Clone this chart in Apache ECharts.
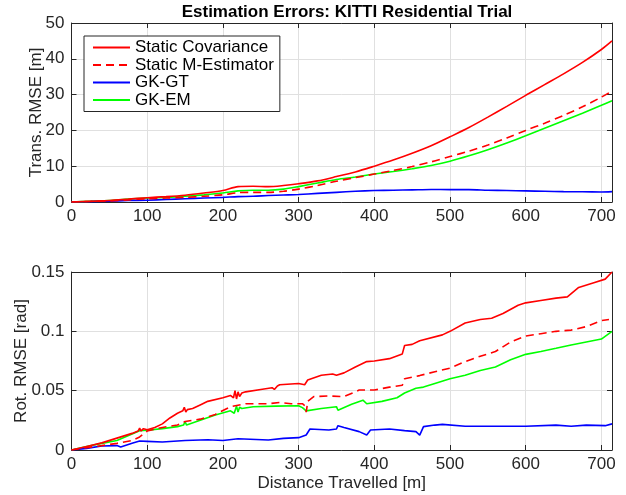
<!DOCTYPE html>
<html><head><meta charset="utf-8">
<script src="https://cdn.jsdelivr.net/npm/echarts@6/dist/echarts.min.js"></script>
<style>html,body{margin:0;padding:0;background:#fff}#c{width:626px;height:495px}</style>
</head><body><div id="c"></div>
<script>
// ---- Top plot: translational RMSE [m] ----
const transX      = [0,25,50,75,100,125,150,175,200,220,240,260,280,300,325,350,375,400,425,450,475,500,525,550,575,600,625,650,675,700,714];
const transCov    = [0,0.2,0.4,0.8,1.2,1.5,1.9,2.5,3.2,4.3,4.4,4.3,4.6,5.1,5.9,7.1,8.4,10.0,11.7,13.6,15.7,18.2,20.8,23.7,26.7,29.8,32.8,35.8,39.0,42.6,45.0];
const transMEst   = [0,0.15,0.3,0.6,0.9,1.1,1.3,1.6,2.0,2.6,2.7,2.7,3.0,3.6,4.6,5.8,6.8,7.8,8.8,9.9,11.2,12.7,14.2,15.9,17.9,20.0,22.0,24.2,26.6,29.3,31.0];
const transGKGT   = [0,0.1,0.25,0.4,0.5,0.7,0.9,1.1,1.3,1.5,1.6,1.8,1.95,2.1,2.4,2.7,3.0,3.2,3.3,3.4,3.5,3.45,3.45,3.3,3.2,3.1,3.0,2.9,2.85,2.8,2.9];
const transGKEM   = [0,0.2,0.4,0.8,1.1,1.3,1.6,2.0,2.5,3.1,3.3,3.3,3.6,4.3,5.3,6.3,7.0,7.8,8.5,9.3,10.2,11.4,12.9,14.6,16.5,18.5,20.6,22.7,24.8,27.0,28.3];

// ---- Bottom plot: rotational RMSE [rad] ----
const rotCovX = [0,20,40,60,80,88,90,92,95,100,110,120,130,140,147,149,151,153,160,170,180,200,210,214,216,218,220,222,225,230,250,265,268,272,275,300,308,312,330,345,350,360,375,390,400,420,437,440,450,460,490,500,520,540,555,570,590,600,620,640,655,670,690,705,714];
const rotCov  = [0,0.003,0.006,0.010,0.014,0.016,0.0185,0.016,0.018,0.017,0.019,0.022,0.027,0.031,0.033,0.036,0.032,0.034,0.035,0.038,0.041,0.044,0.046,0.044,0.050,0.043,0.049,0.045,0.048,0.049,0.051,0.0525,0.051,0.054,0.055,0.056,0.055,0.059,0.063,0.064,0.063,0.065,0.070,0.0745,0.075,0.077,0.081,0.088,0.089,0.092,0.097,0.100,0.107,0.110,0.111,0.115,0.122,0.124,0.126,0.128,0.129,0.137,0.141,0.144,0.150];

const rotMEstX = [0,20,40,60,80,90,100,120,140,150,170,190,210,230,260,275,290,305,309,310,311,312,320,340,360,380,400,420,437,440,460,480,500,520,540,560,580,600,620,640,660,680,700,710];
const rotMEst  = [0,0.002,0.0037,0.0056,0.008,0.011,0.016,0.019,0.021,0.024,0.026,0.030,0.0365,0.039,0.039,0.040,0.039,0.039,0.037,0.032,0.036,0.041,0.045,0.0455,0.045,0.0505,0.0505,0.053,0.0545,0.060,0.0627,0.066,0.069,0.0745,0.079,0.083,0.091,0.096,0.098,0.100,0.101,0.104,0.109,0.110];

const rotGKGTX = [0,20,40,60,65,80,90,100,120,150,180,200,220,260,280,300,310,315,340,350,352,360,380,390,395,420,440,455,460,465,480,490,520,560,600,640,660,680,705,714];
const rotGKGT  = [0,0.0014,0.0034,0.0037,0.0025,0.0056,0.0076,0.0073,0.0067,0.008,0.0087,0.008,0.0095,0.0084,0.0098,0.0104,0.0126,0.0177,0.0168,0.0177,0.0205,0.019,0.0155,0.0126,0.0168,0.0177,0.0163,0.0155,0.0126,0.0197,0.021,0.0216,0.020,0.020,0.020,0.021,0.020,0.021,0.0205,0.022];

const rotGKEMX = [0,20,40,60,80,90,100,120,140,148,150,152,170,190,210,215,218,220,222,225,240,270,300,305,310,330,350,352,370,385,390,410,430,440,455,465,480,500,520,540,560,580,600,620,640,660,680,700,714];
const rotGKEM  = [0,0.003,0.0056,0.008,0.0135,0.0163,0.0166,0.018,0.0197,0.021,0.024,0.021,0.025,0.0295,0.033,0.031,0.037,0.032,0.036,0.035,0.0365,0.037,0.0373,0.0357,0.033,0.035,0.0365,0.0335,0.0385,0.042,0.039,0.041,0.044,0.048,0.052,0.053,0.056,0.060,0.063,0.067,0.070,0.076,0.0806,0.083,0.0857,0.0885,0.091,0.0935,0.100];

const names = ['Static Covariance','Static M-Estimator','GK-GT','GK-EM'];
const colors = ['#ff0000','#ff0000','#0000ff','#00ff00'];

const zip = (xs, ys) => xs.map((x, i) => [x, ys[i]]);
const FONT = "'Liberation Sans', Arial, Helvetica, sans-serif";
const TXT = '#262626';
const XMAX = 714;

function xAxisDef(gi, main) {
  return {
    type: 'value', gridIndex: gi, min: 0, max: XMAX, interval: 100,
    position: main ? 'bottom' : 'top',
    axisLine: { show: true, onZero: false, lineStyle: { color: TXT, width: 1 } },
    axisTick: { show: true, inside: true, length: 5, lineStyle: { color: TXT } },
    axisLabel: { show: main, margin: 6, color: TXT, fontSize: 17, fontFamily: FONT,
                 formatter: v => (v % 100 === 0 ? String(v) : '') },
    splitLine: { show: main, lineStyle: { color: '#e0e0e0', width: 1 } },
    name: (main && gi === 1) ? 'Distance Travelled [m]' : '',
    nameLocation: 'middle', nameGap: 25, nameMoveOverlap: false,
    nameTextStyle: { color: TXT, fontSize: 17, fontFamily: FONT }
  };
}
function yAxisDef(gi, main, max, interval, name, gap) {
  return {
    type: 'value', gridIndex: gi, min: 0, max: max, interval: interval,
    position: main ? 'left' : 'right',
    axisLine: { show: true, onZero: false, lineStyle: { color: TXT, width: 1 } },
    axisTick: { show: true, inside: true, length: 5, lineStyle: { color: TXT } },
    axisLabel: { show: main, margin: 7, color: TXT, fontSize: 17, fontFamily: FONT },
    splitLine: { show: main, lineStyle: { color: '#e0e0e0', width: 1 } },
    name: main ? name : '', nameLocation: 'middle', nameGap: gap, nameRotate: 90,
    nameMoveOverlap: false,
    nameTextStyle: { color: TXT, fontSize: 17, fontFamily: FONT }
  };
}

const topData = [transCov, transMEst, transGKGT, transGKEM];
const botData = [zip(rotCovX, rotCov), zip(rotMEstX, rotMEst), zip(rotGKGTX, rotGKGT), zip(rotGKEMX, rotGKEM)];

const series = [];
names.forEach((n, i) => {
  series.push({
    name: n, type: 'line', xAxisIndex: 0, yAxisIndex: 0, showSymbol: false, symbol: 'none',
    smooth: 0.3, data: zip(transX, topData[i]), z: 10 - i,
    lineStyle: { color: colors[i], width: 1.6, type: i === 1 ? [8, 5] : 'solid' },
    itemStyle: { color: colors[i] }
  });
});
names.forEach((n, i) => {
  series.push({
    name: n, type: 'line', xAxisIndex: 2, yAxisIndex: 2, showSymbol: false, symbol: 'none',
    data: botData[i], z: 10 - i,
    lineStyle: { color: colors[i], width: 1.6, type: i === 1 ? [8, 5] : 'solid' },
    itemStyle: { color: colors[i] }
  });
});

const chart = echarts.init(document.getElementById('c'), null, { renderer: 'canvas' });
chart.setOption({
  animation: false,
  backgroundColor: '#fff',
  title: {
    text: 'Estimation Errors: KITTI Residential Trial',
    left: 342, top: -1, textAlign: 'center',
    textStyle: { fontSize: 17, fontWeight: 'bold', color: '#000', fontFamily: FONT }
  },
  grid: [
    { left: 71.5, right: 14, top: 23, height: 179 },
    { left: 71.5, right: 14, top: 272, height: 178 }
  ],
  xAxis: [xAxisDef(0, true), xAxisDef(0, false), xAxisDef(1, true), xAxisDef(1, false)],
  yAxis: [
    yAxisDef(0, true, 50, 10, 'Trans. RMSE [m]', 27),
    yAxisDef(0, false, 50, 10, '', 0),
    yAxisDef(1, true, 0.15, 0.05, 'Rot. RMSE [rad]', 42),
    yAxisDef(1, false, 0.15, 0.05, '', 0)
  ],
  legend: {
    data: names, orient: 'vertical', left: 84, top: 36,
    itemWidth: 37, itemHeight: 16, itemGap: 0.5,
    padding: [3, 6, 3, 8],
    backgroundColor: '#fff', borderColor: TXT, borderWidth: 1,
    itemStyle: { opacity: 0 },
    textStyle: { fontSize: 17, color: '#000', fontFamily: FONT, lineHeight: 16 },
    selectedMode: false
  },
  series: series
});
</script></body></html>
